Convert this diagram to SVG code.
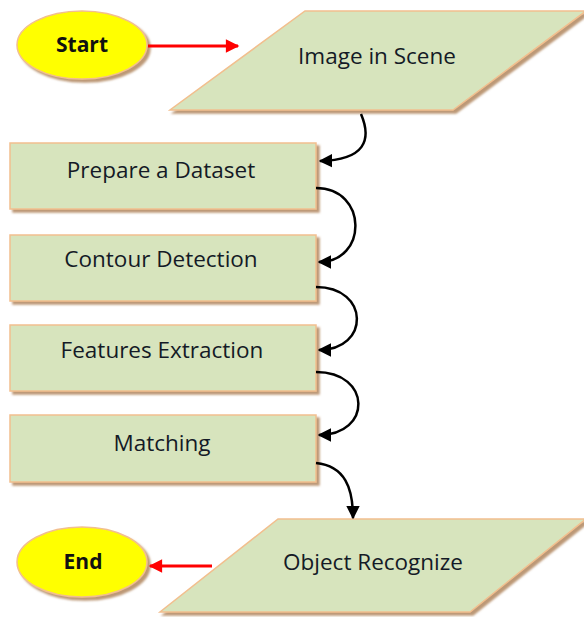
<svg xmlns="http://www.w3.org/2000/svg" width="584" height="617" viewBox="0 0 584 617">
<defs>
<filter id="sh" x="-10%" y="-10%" width="130%" height="130%">
<feDropShadow dx="3" dy="3" stdDeviation="0.8" flood-color="#b58d66" flood-opacity="0.9"/>
</filter>
<marker id="ab" viewBox="0 0 10 10" refX="9" refY="5" markerWidth="5.5" markerHeight="5.5" orient="auto" markerUnits="strokeWidth">
<path d="M0,0 L10,5 L0,10 z" fill="#000"/>
</marker>
<marker id="ar" viewBox="0 0 10 10" refX="9" refY="5" markerWidth="5" markerHeight="4.5" orient="auto" markerUnits="strokeWidth">
<path d="M0,0 L10,5 L0,10 z" fill="#f00"/>
</marker>
</defs>
<style>
.box{fill:#d7e4bd;stroke:#f2bf8e;stroke-width:1.5;filter:url(#sh)}
.oval{fill:#ffff00;stroke:#f2bf8e;stroke-width:1.5;filter:url(#sh)}
.t{font-family:"Open Sans","Liberation Sans",sans-serif;font-size:22.5px;fill:#141a26;text-anchor:middle}
.tb{font-family:"Open Sans","Liberation Sans",sans-serif;font-size:21px;font-weight:bold;fill:#111;text-anchor:middle}
.c{fill:none;stroke:#000;stroke-width:2.5;marker-end:url(#ab)}
.r{fill:none;stroke:#f00;stroke-width:3;marker-end:url(#ar)}
</style>
<g id="start">
<ellipse class="oval" cx="82" cy="45" rx="65" ry="34"/>
<text class="tb" x="82" y="52">Start</text>
</g>
<g id="image">
<polygon class="box" points="305,11 586,11 453,110 170,110"/>
<text class="t" x="377" y="64">Image in Scene</text>
</g>
<g id="prepare">
<rect class="box" x="10" y="143" width="306" height="66"/>
<text class="t" x="161" y="178">Prepare a Dataset</text>
</g>
<g id="contour">
<rect class="box" x="10" y="235" width="306" height="66"/>
<text class="t" x="161" y="267">Contour Detection</text>
</g>
<g id="features">
<rect class="box" x="10" y="325" width="306" height="66"/>
<text class="t" x="162" y="358">Features Extraction</text>
</g>
<g id="matching">
<rect class="box" x="10" y="415" width="306" height="67"/>
<text class="t" x="162" y="451">Matching</text>
</g>
<g id="object">
<polygon class="box" points="278,519 586,519 470,612 160,612"/>
<text class="t" x="373" y="570">Object Recognize</text>
</g>
<g id="end">
<ellipse class="oval" cx="82" cy="562" rx="65" ry="35"/>
<text class="tb" x="83" y="569">End</text>
</g>
<g id="connectors">
<path class="r" d="M148,46 L238,46"/>
<path class="r" d="M212,566 L150,566"/>
<path class="c" d="M361,114 C372,140 365,160 320,161"/>
<path class="c" d="M316,188 C368,188 368,262 319,262"/>
<path class="c" d="M316,287 C370,287 370,350 319,350"/>
<path class="c" d="M316,372 C372,372 372,435 319,435"/>
<path class="c" d="M316,463 C345,466 353,488 353,518"/>
</g>
</svg>
